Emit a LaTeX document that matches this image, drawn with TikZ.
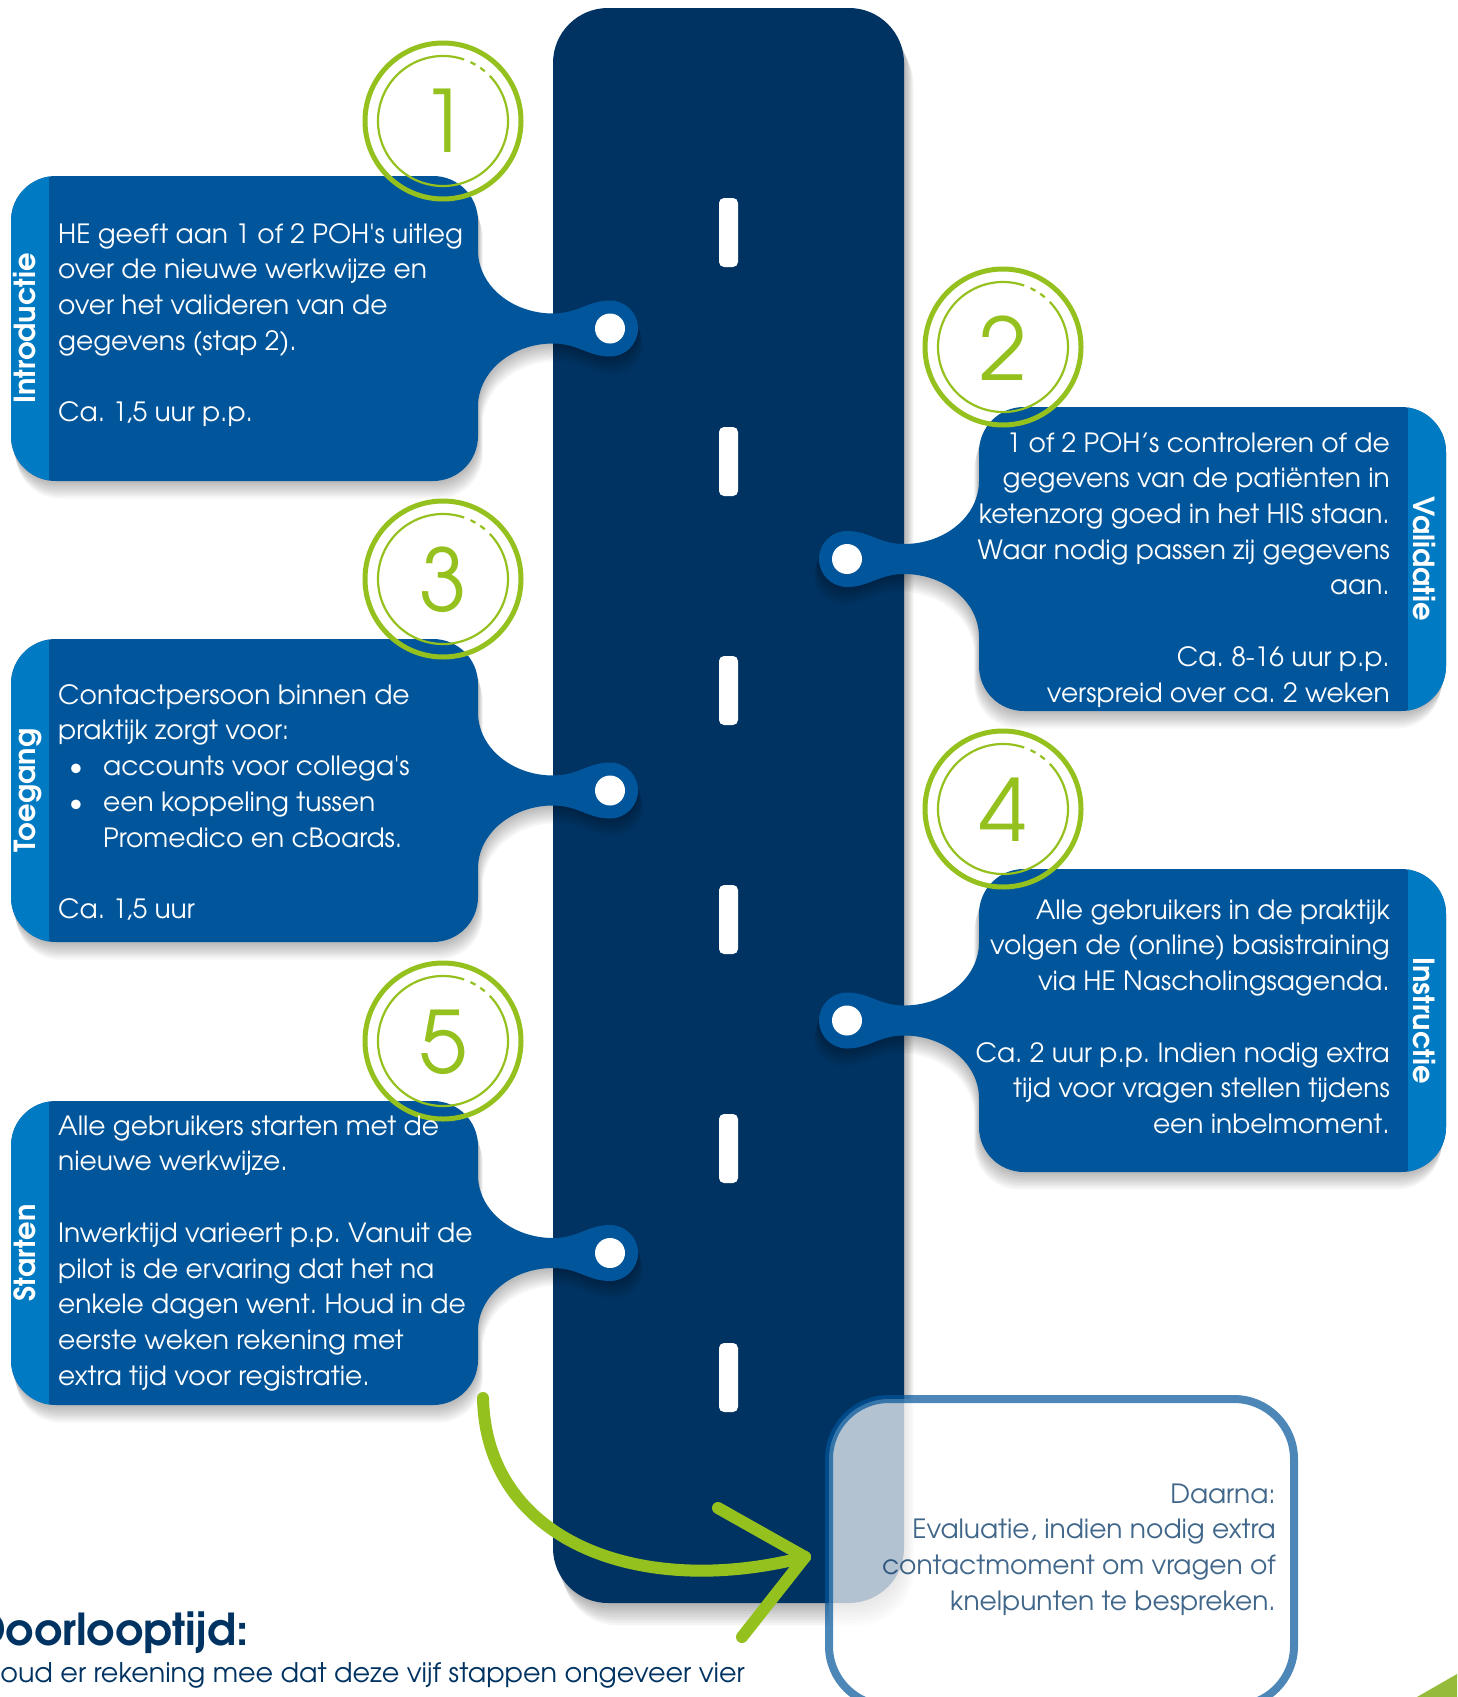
\documentclass[tikz,border=0pt]{standalone}
\usepackage{fontspec}
\setmainfont{texgyreadventor}[Extension=.otf, UprightFont=*-regular, BoldFont=*-bold, ItalicFont=*-italic, BoldItalicFont=*-bolditalic]
\definecolor{road}{RGB}{0,51,98}
\definecolor{cardblue}{RGB}{0,85,155}
\definecolor{stripe}{RGB}{0,122,194}
\definecolor{lime}{RGB}{149,193,31}
\definecolor{lime2}{RGB}{150,187,58}
\tikzset{
  bodytext/.style={text=white, inner sep=0pt, font=\fontsize{26.5}{35.7}\selectfont\frenchspacing},
  sidelabel/.style={text=white, inner sep=0pt, font=\bfseries\fontsize{29}{29}\selectfont},
  ringouter/.style={draw=lime, line width=5},
  ringinner/.style={draw=lime, line width=2.2},
  digit/.style={text=lime, inner sep=0pt, font=\fontsize{86}{86}\selectfont},
  arrowline/.style={draw=lime, line width=12, line cap=round, line join=round},
  dashmark/.style={fill=white, rounded corners=5pt},
}
\newcommand\cpath[2]{(56,#1) -- (433,#1) .. controls (458,#1) and (478,{#1+20}) .. (478,{#1+45})
 -- (478,{\cmid-78}) .. controls (478,{\cmid-43}) and (512,{\cmid-15}) .. (553,{\cmid-15})
 .. controls (578,{\cmid-15}) and (588,{\cmid-28}) .. (610,{\cmid-28})
 arc[start angle=-90,end angle=90,radius=28]
 .. controls (588,{\cmid+28}) and (578,{\cmid+15}) .. (553,{\cmid+15})
 .. controls (512,{\cmid+15}) and (478,{\cmid+43}) .. (478,{\cmid+78})
 -- (478,{#2-45}) .. controls (478,{#2-20}) and (458,#2) .. (433,#2)
 -- (56,#2) .. controls (31,#2) and (11,{#2-20}) .. (11,{#2-45})
 -- (11,{#1+45}) .. controls (11,{#1+20}) and (31,#1) .. (56,#1) -- cycle}
\newcommand\drawcard[2]{%
 \pgfmathsetmacro\cmid{(#1+#2)/2}%
 \foreach \i in {1,...,8}{\fill[black,opacity=0.035,shift={(\i*0.6,\i*2.2)}] \cpath{#1}{#2};}%
 \fill[cardblue] \cpath{#1}{#2};%
 \begin{scope}\clip \cpath{#1}{#2}; \fill[stripe] (0,#1) rectangle (49,#2); \end{scope}%
 \fill[white] (610,\cmid) circle (15);%
}
\newcommand\stepring[2]{%
 \draw[ringouter] (#1,#2) circle (78);
 \draw[ringinner] (#1,#2) ++(-71:65) arc[start angle=-71,end angle=-404,radius=65];
 \draw[ringinner] (#1,#2) ++(-65:65) arc[start angle=-65,end angle=-60,radius=65];
 \draw[ringinner] (#1,#2) ++(-55:65) arc[start angle=-55,end angle=-50,radius=65];
}
\newcommand\bulitem{\makebox[45pt][l]{\hspace{11pt}\textbullet}}
\begin{document}
\begin{tikzpicture}[x=1pt,y=-1pt]
\useasboundingbox (0,0) rectangle (1457,1697);
\fill[white] (0,0) rectangle (1457,1697);
% road with soft shadow
\foreach \i in {1,...,8}{\fill[black,opacity=0.04,rounded corners=55pt,shift={(\i*1.2,\i*2.8)}] (553,8) rectangle (904,1603);}
\fill[road,rounded corners=55pt] (553,8) rectangle (904,1603);
\foreach \y in {198,427,656,885,1114,1343}{\fill[dashmark] (719,\y) rectangle (738,{\y+69});}
% cards
\drawcard{176}{481}
\drawcard{639}{942}
\drawcard{1101}{1405}
\begin{scope}[shift={(1457,0)},xscale=-1]
\drawcard{407}{711}
\drawcard{869}{1172}
\end{scope}
% rings
\stepring{443}{121}
\stepring{1003}{347}
\stepring{443}{579}
\stepring{1003}{809}
\stepring{443}{1041}
\node[digit] (n1) at (444,121) {1};
\node[digit] (n2) at (1003,348) {2};
\node[digit] (n3) at (443,580) {3};
\node[digit] (n4) at (1003,810) {4};
\node[digit] (n5) at (443,1042) {5};
% side labels
\node[sidelabel,rotate=90,anchor=base] (l1) at (35,328.5) {Introductie};
\node[sidelabel,rotate=90,anchor=base] (l3) at (35,790.5) {Toegang};
\node[sidelabel,rotate=90,anchor=base] (l5) at (35,1253) {Starten};
\node[sidelabel,rotate=-90,anchor=base] (l2) at (1413,559) {Validatie};
\node[sidelabel,rotate=-90,anchor=base] (l4) at (1413,1020.5) {Instructie};
% card texts
\node[bodytext,anchor=north west,align=left] (t1) at (58,218) {\strut HE geeft aan 1 of 2 POH\textquotesingle s uitleg\\over de nieuwe werkwijze en\\over het valideren van de\\gegevens (stap 2).\\[35.7pt]Ca. 1,5 uur p.p.};
\node[bodytext,anchor=north east,align=right] (t2) at (1390,427) {\strut 1 of 2 POH’s controleren of de\\gegevens van de patiënten in\\ketenzorg goed in het HIS staan.\\Waar nodig passen zij gegevens\\aan.\\[35.7pt]Ca. 8-16 uur p.p.\\verspreid over ca. 2 weken};
\node[bodytext,anchor=north west,align=left] (t3) at (58,679) {\strut Contactpersoon binnen de\\praktijk zorgt voor:\\\bulitem accounts voor collega\textquotesingle s\\\bulitem een koppeling tussen\\\hspace*{45pt}Promedico en cBoards.\\[35.7pt]Ca. 1,5 uur};
\node[bodytext,anchor=north east,align=right] (t4) at (1390,894) {\strut Alle gebruikers in de praktijk\\volgen de (online) basistraining\\via HE Nascholingsagenda.\\[35.7pt]Ca. 2 uur p.p. Indien nodig extra\\tijd voor vragen stellen tijdens\\een inbelmoment.};
\node[bodytext,anchor=north west,align=left] (t5) at (58,1110) {\strut Alle gebruikers starten met de\\nieuwe werkwijze.\\[35.7pt]Inwerktijd varieert p.p. Vanuit de\\pilot is de ervaring dat het na\\enkele dagen went. Houd in de\\eerste weken rekening met\\extra tijd voor registratie.};
% arrow
\coordinate (a0) at (483,1398);
\coordinate (a1) at (805,1557);
\draw[arrowline] (a0) .. controls (486,1540) and (638,1600) .. (a1);
\draw[arrowline] (a1) -- ++(-87,-49);
\draw[arrowline] (a1) -- ++(-63,80);
% evaluation box
\fill[white,fill opacity=0.7,rounded corners=60pt] (829,1399) rectangle (1294,1706);
\draw[cardblue,draw opacity=0.7,line width=8,rounded corners=60pt] (829,1399) rectangle (1294,1706);
\node[bodytext,text=road,text opacity=0.75,anchor=north east,align=right] (ev) at (1276,1478) {\strut Daarna:\\Evaluatie, indien nodig extra\\contactmoment om vragen of\\knelpunten te bespreken.};
% corner accent
\fill[lime2] (1417,1697) -- (1457,1674) -- (1457,1697) -- cycle;
% bottom text
\node[anchor=base east,inner sep=0pt,text=road,font=\bfseries\fontsize{44}{44}\selectfont] (dt) at (249,1645) {Doorlooptijd:};
\node[anchor=base east,inner sep=0pt,text=road,font=\fontsize{27}{30}\selectfont\frenchspacing] (dl) at (745,1682) {Houd er rekening mee dat deze vijf stappen ongeveer vier};
\end{tikzpicture}
\end{document}
